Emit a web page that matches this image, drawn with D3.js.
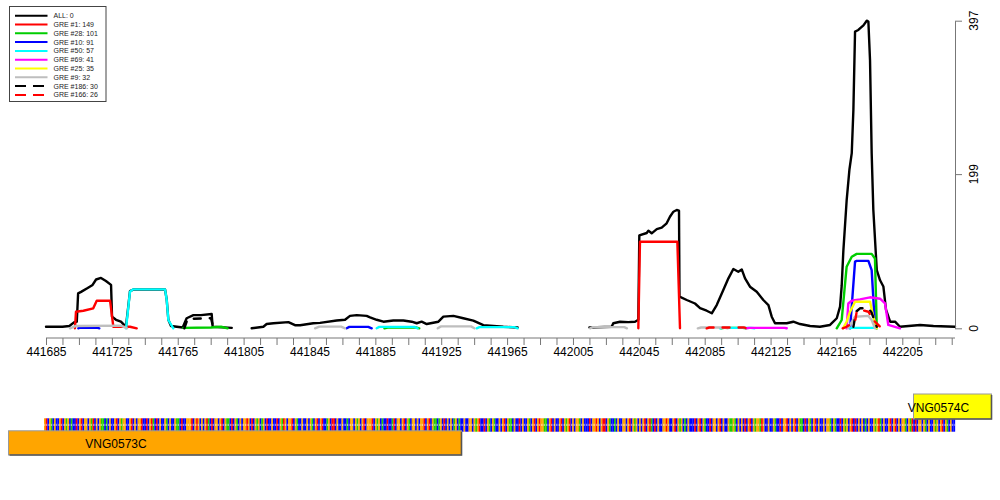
<!DOCTYPE html>
<html>
<head>
<meta charset="utf-8">
<script src="https://cdn.jsdelivr.net/npm/d3@7"></script>
<style>
  body { margin: 0; background: #fff; }
  svg { display: block; font-family: "Liberation Sans", Arial, sans-serif; }
</style>
</head>
<body>
<svg id="chart" width="1000" height="500"></svg>
<script>
// each series is a list of segments, each segment a list of [position, reads]
const allReads = [
  [[441685,2],[441695,2],[441699.2,3],[441702.2,8],[441703.7,8.5],[441704.5,45],[441706.3,47],[441710.3,52],[441713.3,56],[441715.4,63],[441718.4,65],[441721.4,61],[441724.5,56],[441725.1,15],[441727.5,11],[441730.5,8.5],[441732.6,4],[441733.6,3],[441734.8,25],[441736,48],[441738,50],[441757.3,50],[441758.3,37],[441759.3,11],[441760.9,3],[441768,1],[441770.4,13],[441774.5,17],[441779.1,17],[441785.6,18.5],[441786.2,2],[441797.8,0.5]],
  [[441809.9,0],[441817,2],[441819,5.5],[441823.1,6.5],[441832.2,8],[441836.2,4],[441839.3,4],[441847.3,6.5],[441851.4,7],[441861.5,10],[441866.6,11],[441869.6,16],[441873.7,17],[441879.7,16],[441881.8,14],[441885.8,11],[441889.9,8.5],[441895.9,10],[441902,10],[441907.1,8.5],[441910.1,6.5],[441913.1,8.5],[441916.2,5.5],[441923.3,8.5],[441926.3,15],[441932.4,16],[441938.4,13],[441944.5,10],[441950.6,4],[441956.7,3],[441962.7,2],[441971.4,1]],
  [[442015,1],[442028.5,2],[442029.5,6.5],[442033.6,8.5],[442038.6,8],[442042.7,8.5],[442044.7,11],[442045.3,120],[442049.8,123],[442050.8,126],[442052.8,122.6],[442055.9,128],[442058.9,130],[442061.9,135.5],[442063.9,144],[442066,150.5],[442068,152.7],[442069.4,151.8],[442069.7,40.8],[442074.1,36.5],[442079.1,32],[442082.2,26],[442086.2,22.7],[442089.3,19.4],[442092.3,30],[442096.3,49.4],[442099.4,64.5],[442102.4,76.5],[442105.4,73],[442107.5,76],[442109.5,64.5],[442112.5,53.7],[442116.6,47.2],[442120.6,36.5],[442123.7,30],[442125.7,15],[442127.7,6.5],[442134.8,6.5],[442138.8,8.5],[442142.9,5.5],[442149,3],[442155,2],[442161.1,4.3],[442165.2,13],[442167.2,28],[442168.2,55],[442169.2,100],[442171.2,165],[442172.9,205],[442174.3,226],[442175.3,282],[442176.3,383],[442178.3,385],[442179.3,387],[442181.4,391],[442183.4,397],[442184.4,396],[442185.4,346],[442186.4,226],[442187.4,153],[442189.5,75],[442191.5,62],[442193.5,54],[442195.1,24],[442197.6,8.5],[442200.6,8.5],[442203.6,2],[442215.8,4.3],[442223.9,3],[442237,2]]
];
const gre1 = [
  [[441702.6,0],[441703.2,21.4],[441707.7,22.7],[441713.7,25.8],[441715.8,35.6],[441723.9,35.6],[441725.9,2],[441736,2],[441740.1,0]],
  [[442044.7,0],[442045.7,111.8],[442068.4,111.8],[442070,0]]
];
const gre28 = [
  [[441768.4,0.5],[441785.2,1],[441791.3,2],[441795.3,0]],
  [[441890.5,0],[441892.5,1],[441909.7,1],[441911.7,0]],
  [[442094.9,0],[442096.9,0.5],[442108.1,0.5],[442110.1,0]],
  [[442165.2,0],[442168.2,10.7],[442171.2,79.5],[442174.3,92.4],[442177.3,96],[442186.4,96],[442188.4,90],[442189.5,0]]
];
const gre10 = [
  [[441704.6,0],[441705.2,0.5],[441716.4,0.5],[441717.4,0]],
  [[441867.6,0],[441869.2,1.8],[441880.7,1.8],[441882.8,0]],
  [[442173.3,0],[442176.3,86],[442177.3,87],[442184.4,87],[442186.4,75],[442188.4,2],[442189.5,0]]
];
const gre50 = [
  [[441733.6,0],[441734.8,23.6],[441736,47.2],[441738,50.3],[441757.3,50.3],[441758.3,36.5],[441759.3,10.7],[441762.3,0]],
  [[441885.8,0],[441887.4,1.8],[441908.7,1.8],[441910.7,0]],
  [[441946.5,0],[441948.2,1.5],[441969.4,1.5],[441971.4,0]],
  [[442094.3,0],[442095.9,0.6],[442113.1,0.6],[442115.2,0]],
  [[442173.3,0],[442173.9,0.5],[442188.4,0.5],[442189.5,0]]
];
const gre69 = [
  [[442110.5,0],[442112.1,0.6],[442133.4,0.6],[442134.8,0]],
  [[442171.2,0],[442172.2,32],[442174.3,35.6],[442179.3,37.4],[442185.4,40],[442191.5,38.2],[442194.5,32.3],[442196.5,4.3],[442203.6,0]]
];
const gre25 = [
  [[442169,0],[442171.2,8.5],[442173.3,21.4],[442176.3,34.3],[442185.4,34.3],[442187.4,15],[442189.5,0]]
];
const gre9 = [
  [[441699.6,0],[441703.2,3],[441730.5,3.5],[441734.2,0]],
  [[441848.4,0],[441851,2.2],[441864.2,2.2],[441866.6,0]],
  [[441922.9,0],[441924.9,2.5],[441943.1,2.5],[441945.1,0]],
  [[442015.4,0],[442017,1.5],[442036.2,1.5],[442037.8,0]],
  [[442080.8,0],[442082.8,1],[442096.9,1],[442099,0]],
  [[442172,0],[442173.3,4.3],[442176.3,15],[442184.4,16],[442186.4,10.7],[442188.4,0]]
];
const gre186 = [
  [[441769,0],[441771,12],[441785.2,13],[441786.7,0]],
  [[442175.3,2],[442176.9,21.4],[442179.3,25.8],[442184.4,25.8],[442186.4,20],[442189.5,2]]
];
const gre166 = [
  [[442086.2,0],[442087.8,1],[442109.1,1],[442110.5,0]],
  [[442168.8,0],[442171.2,2],[442176.3,8.5],[442177.3,21.4],[442180.3,23.6],[442184.4,21.4],[442187.4,10.7],[442192.5,0]]
];

const seriesData = [allReads, gre1, gre28, gre10, gre50, gre69, gre25, gre9, gre186, gre166];
const seriesLabels = ['ALL: 0', 'GRE #1: 149', 'GRE #28: 101', 'GRE #10: 91', 'GRE #50: 57',
  'GRE #69: 41', 'GRE #25: 35', 'GRE #9: 32', 'GRE #186: 30', 'GRE #166: 26'];
const seriesColors = ['#000000', '#ff0000', '#00cd00', '#0000ff', '#00ffff',
  '#ff00ff', '#ffff00', '#bebebe', '#000000', '#ff0000'];
const seriesDashed = [false, false, false, false, false, false, false, false, true, true];

const yTicks = [0, 199, 397];
const xStart = 441685;
const xEnd = 442237;

// genomic sequence shown under the plot
const sequence =
  'GTCGACGCCGTCGAGCACCTCGTCGGCGATCGCGAACACGCCGTCGAGGC' +
  'CGTCGCGGTCCTCGTACTCGCCGACGCCGAACTCCGGGTCGTGCGCGTAC' +
  'TCGGCGTCGAACTCGACGCGGTGCTCGAGCAGCTCCGCCTCGATGCGGTC' +
  'GACCGCCGCGACGTCGTCCAGCTTCGCCGCCACGGCGAGCGTCGGGTCGA' +
  'GCACCTCCATCGGCGTCGACGGCGCGGTCGTCGAACAGCTCGCGCAGCAC' +
  'CGCCGGCGAGTCCTCGACGACCGCGTCGAACGCCTCGCCGACGTCGTGGA' +
  'ACGTCGCCGTCGAGTCGCGGACGCCCTCGGTGCGTTCGACCACGCCGGCG' +
  'TCGAGCGCGTCGTACTCGCCGGTGCCGTCGAGCACGCCCTCGTCGACCTC' +
  'GGCGTCGCCGAAGACGCGCTCGTCGAGGATGCCGCCGACCTCGGTCGCGT' +
  'CGAACTCGACGTCGCCGCGGACGACCTCGAGCGTCTCGCGCACGCCGAGT' +
  'ACGCCGTCGTCGCGGACGATCTCGGCGACGCCGAGCGTCGACGCC';
const baseColors = { A: '#22cc00', C: '#0000ff', G: '#ffa500', T: '#ff0000' };

const genes = ['VNG0573C', 'VNG0574C'];
const geneColors = ['#ffa500', '#ffff00'];

const svg = d3.select('#chart');

const x = d3.scaleLinear().domain([xStart, xEnd]).range([46, 955]);
const y = d3.scaleLinear().domain([0, 397]).range([328.3, 20.7]);

const line = d3.line()
  .x(d => x(d[0]))
  .y(d => y(d[1]));

// coverage lines, drawn in legend order
const plot = svg.append('g');
seriesData.forEach((segs, i) => {
  plot.selectAll(null)
    .data(segs)
    .enter().append('path')
    .attr('d', line)
    .attr('fill', 'none')
    .attr('stroke', seriesColors[i])
    .attr('stroke-width', 2.4)
    .attr('stroke-linejoin', 'round')
    .attr('stroke-linecap', 'round')
    .attr('stroke-dasharray', seriesDashed[i] ? '7,9' : null);
});

// bottom axis: ticks every 10, labels every 40
const xTicks = d3.range(xStart, xEnd, 10);
const xAxis = d3.axisBottom(x)
  .tickValues(xTicks)
  .tickSize(7)
  .tickSizeOuter(0)
  .tickFormat(d => (d - xStart) % 40 === 0 ? d : '');
const gx = svg.append('g')
  .attr('transform', 'translate(0,338)')
  .call(xAxis);
gx.select('.domain').attr('stroke', '#777').attr('d', `M${x(xStart)},0H955`);
gx.selectAll('.tick line').attr('stroke', '#777');
gx.selectAll('.tick text')
  .attr('font-size', 12)
  .attr('font-family', '"Liberation Sans", Arial, sans-serif')
  .attr('fill', '#000')
  .attr('dy', '0.71em')
  .attr('y', 9);

// right axis with vertical labels
const gy = svg.append('g')
  .attr('transform', 'translate(955,0)')
  .call(d3.axisRight(y).tickValues(yTicks).tickSize(7).tickSizeOuter(0).tickFormat(''));
gy.select('.domain').attr('stroke', '#777');
gy.selectAll('.tick line').attr('stroke', '#777');
svg.selectAll('.ylab')
  .data(yTicks)
  .enter().append('text')
  .attr('transform', d => `translate(977.5,${y(d)}) rotate(-90)`)
  .attr('text-anchor', 'middle')
  .attr('font-size', 12)
  .text(d => d);

// legend
const legend = svg.append('g');
legend.append('rect')
  .attr('x', 9.5).attr('y', 6.5)
  .attr('width', 96.5).attr('height', 95)
  .attr('fill', '#fff')
  .attr('stroke', '#444')
  .attr('stroke-width', 1);
seriesLabels.forEach((lab, i) => {
  const ly = 15.7 + i * 8.8;
  legend.append('line')
    .attr('x1', 15).attr('x2', 47.5)
    .attr('y1', ly).attr('y2', ly)
    .attr('stroke', seriesColors[i])
    .attr('stroke-width', 2)
    .attr('stroke-dasharray', seriesDashed[i] ? '11,7' : null);
  legend.append('text')
    .attr('x', 53.5).attr('y', ly + 2.4)
    .attr('font-size', 7)
    .attr('fill', '#222')
    .text(lab);
});

// sequence track
const band = d3.scaleBand().domain(d3.range(sequence.length)).range([44, 955]);
const track = svg.append('g');
track.selectAll('rect')
  .data(sequence.split(''))
  .enter().append('rect')
  .attr('x', (d, i) => band(i))
  .attr('y', 418.3)
  .attr('width', band.bandwidth() + 0.15)
  .attr('height', 13.4)
  .attr('fill', d => baseColors[d]);
track.selectAll('.mark')
  .data(sequence.split(''))
  .enter().append('rect')
  .attr('class', 'mark')
  .attr('x', (d, i) => band(i) + band.bandwidth() * 0.3)
  .attr('y', 423.8)
  .attr('width', band.bandwidth() * 0.4)
  .attr('height', 2.2)
  .attr('fill', '#fff')
  .attr('opacity', 0.75);

// gene boxes
function geneBox(x0, y0, x1, y1, color) {
  svg.append('rect')
    .attr('x', x0).attr('y', y0)
    .attr('width', x1 - x0).attr('height', y1 - y0)
    .attr('fill', color)
    .attr('stroke', '#999')
    .attr('stroke-width', 1);
  svg.append('path')
    .attr('d', `M${x0 + 1},${y1}H${x1}V${y0 + 1}`)
    .attr('fill', 'none')
    .attr('stroke', '#555')
    .attr('stroke-width', 1.6);
}
geneBox(8.5, 430.8, 461.5, 455, geneColors[0]);
svg.append('text')
  .attr('x', 116).attr('y', 448)
  .attr('text-anchor', 'middle')
  .attr('font-size', 12)
  .text(genes[0]);

geneBox(913.5, 394, 991.5, 419, geneColors[1]);
svg.append('text')
  .attr('x', 938.5).attr('y', 411.5)
  .attr('text-anchor', 'middle')
  .attr('font-size', 12)
  .text(genes[1]);
</script>
</body>
</html>
